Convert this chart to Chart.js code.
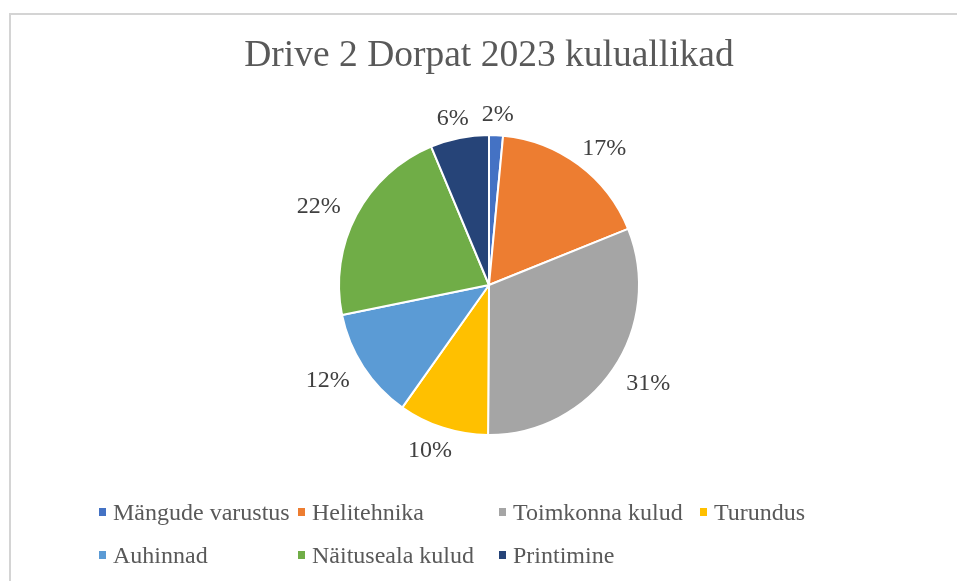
<!DOCTYPE html>
<html>
<head>
<meta charset="utf-8">
<script src="https://cdn.jsdelivr.net/npm/chart.js@4/dist/chart.umd.min.js"></script>
<style>
  html, body { margin: 0; padding: 0; background: #fff; overflow: hidden; }
  #frame { position: absolute; left: 9px; top: 13px; width: 1200px; height: 800px;
           border-top: 2px solid #d4d4d4; border-left: 2px solid #d4d4d4; }
  #wrap { position: absolute; left: 0; top: 0; width: 957px; height: 581px; }
</style>
</head>
<body>
<div id="frame"></div>
<div id="wrap"><canvas id="pieChart"></canvas></div>
<script>
// categories and their share of the costs
const categories = ["Mängude varustus", "Helitehnika", "Toimkonna kulud", "Turundus",
                    "Auhinnad", "Näituseala kulud", "Printimine"];
const shares = [1.5, 17.4, 31.2, 9.7, 12.0, 21.9, 6.3];
const sliceColors = ["#4472C4", "#ED7D31", "#A5A5A5", "#FFC000", "#5B9BD5", "#70AD47", "#264478"];

const serif = "'Liberation Serif', 'Times New Roman', serif";

// percentage labels outside the slice ends
const outsideLabels = {
  id: "outsideLabels",
  afterDatasetsDraw(chart) {
    const ctx = chart.ctx;
    const meta = chart.getDatasetMeta(0);
    const data = chart.data.datasets[0].data;
    const total = data.reduce((a, b) => a + b, 0);
    ctx.save();
    ctx.font = "24px " + serif;
    ctx.fillStyle = "#404040";
    ctx.textAlign = "center";
    ctx.textBaseline = "middle";
    meta.data.forEach((arc, i) => {
      const p = arc.getProps(["startAngle", "endAngle", "outerRadius", "x", "y"], true);
      const mid = (p.startAngle + p.endAngle) / 2;
      const ux = Math.cos(mid), uy = Math.sin(mid);
      const text = Math.round(data[i] / total * 100) + "%";
      const w = ctx.measureText(text).width;
      const h = 16;
      const r = p.outerRadius + 14;
      const cx = p.x + ux * r + ux * w * 0.65;
      const cy = p.y + uy * r + uy * h / 2 + 2;
      ctx.fillText(text, cx, cy);
    });
    ctx.restore();
  }
};

// legend laid out in columns like the original
const gridLegend = {
  id: "gridLegend",
  afterDraw(chart) {
    const ctx = chart.ctx;
    const cols = [99, 298, 499, 700];
    const rows = [520, 563];
    ctx.save();
    ctx.font = "24px " + serif;
    ctx.textBaseline = "alphabetic";
    ctx.textAlign = "left";
    categories.forEach((name, i) => {
      const x = cols[i % 4];
      const y = rows[Math.floor(i / 4)];
      ctx.fillStyle = sliceColors[i];
      ctx.fillRect(x, y - 12, 7, 8);
      ctx.fillStyle = "#595959";
      ctx.fillText(name, x + 14, y);
    });
    ctx.restore();
  }
};

new Chart(document.getElementById("pieChart"), {
  type: "pie",
  data: {
    labels: categories,
    datasets: [{
      data: shares,
      backgroundColor: sliceColors,
      borderColor: "#ffffff",
      borderWidth: 2,
    }],
  },
  options: {
    responsive: true,
    maintainAspectRatio: false,
    animation: false,
    radius: 150,
    layout: { padding: { top: 14, bottom: 146, left: 21, right: 0 } },
    plugins: {
      legend: { display: false },
      tooltip: { enabled: false },
      title: {
        display: true,
        text: "Drive 2 Dorpat 2023 kuluallikad",
        color: "#595959",
        font: { family: serif, size: 37.5, weight: "normal" },
        padding: { top: 20, bottom: 56 },
      },
    },
  },
  plugins: [outsideLabels, gridLegend],
});
</script>
</body>
</html>
